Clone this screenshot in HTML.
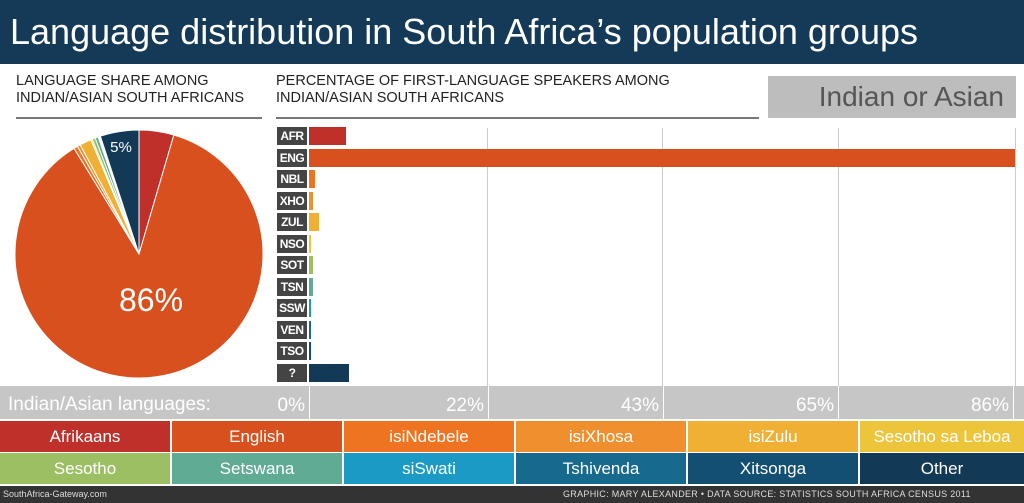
<!DOCTYPE html>
<html><head><meta charset="utf-8"><style>
body{margin:0;width:1024px;height:503px;overflow:hidden;background:#fff;font-family:"Liberation Sans",sans-serif;position:relative}
.a{position:absolute}
.lb{position:absolute;left:277px;width:30px;height:18px;background:#444;color:#fff;font-size:12px;font-weight:bold;text-align:center;line-height:18px;letter-spacing:-0.5px}
.bar{position:absolute;left:309px;height:18px}
.lg{position:absolute;height:31px;line-height:31px;text-align:center;color:#fff;font-size:17px;font-family:"Liberation Sans Narrow","Liberation Sans",sans-serif}
</style></head><body>
<div class="a" style="left:0;top:0;width:1024px;height:64px;background:#143a57"></div>
<div class="a" style="left:10px;top:11px;color:#fff;font-size:36px;white-space:nowrap">Language distribution in South Africa’s population groups</div>
<div class="a" style="left:16px;top:73px;font-size:14.5px;line-height:17px;color:#222">LANGUAGE SHARE AMONG<br>INDIAN/ASIAN SOUTH AFRICANS</div>
<div class="a" style="left:16px;top:117px;width:246px;height:2px;background:#777"></div>
<div class="a" style="left:276px;top:73px;font-size:14.5px;line-height:17px;color:#222">PERCENTAGE OF FIRST-LANGUAGE SPEAKERS AMONG<br>INDIAN/ASIAN SOUTH AFRICANS</div>
<div class="a" style="left:276px;top:117px;width:483px;height:2px;background:#777"></div>
<div class="a" style="left:768px;top:76px;width:248px;height:42px;background:#bdbdbd;color:#555;font-size:28px;line-height:42px;text-align:right;box-sizing:border-box;padding-right:12px">Indian or Asian</div>
<div class="a" style="left:487px;top:128px;width:1px;height:258px;background:#ccc"></div>
<div class="a" style="left:662px;top:128px;width:1px;height:258px;background:#ccc"></div>
<div class="a" style="left:838px;top:128px;width:1px;height:258px;background:#ccc"></div>
<div class="a" style="left:1015px;top:128px;width:1px;height:258px;background:#ccc"></div>
<svg class="a" style="left:0;top:0" width="300" height="387" id="pie"></svg>
<div id="bars"></div>
<div class="a" style="left:0;top:386px;width:1024px;height:33px;background:#c6c6c6"></div>
<div class="a" style="left:8px;top:386px;height:33px;line-height:38px;font-size:19px;color:#fff">Indian/Asian languages:</div>
<div id="ticks"></div>
<div id="leg"></div>
<div class="a" style="left:0;top:486px;width:1024px;height:17px;background:#333"></div>
<div class="a" style="left:3px;top:486px;line-height:17px;font-size:9px;color:#ddd">SouthAfrica-Gateway.com</div>
<div class="a" style="left:563px;top:486px;line-height:17px;font-size:9px;color:#ddd;white-space:nowrap;letter-spacing:0.3px">GRAPHIC: MARY ALEXANDER • DATA SOURCE: STATISTICS SOUTH AFRICA CENSUS 2011</div>
<script>
var cols=["#c0302a","#d9501f","#ef7422","#f08f2e","#efb033","#ecc53a","#9cbf63","#5fab94","#1a9ac4","#176a8e","#134f72","#123a57"];
var pv=[4.5,86,0.5,0.4,1.5,0.2,0.4,0.4,0.1,0.1,0.1,5];
var s=0;pv.forEach(function(v){s+=v});
var cx=139,cy=254,r=124,a=0,h="";
pv.forEach(function(v,i){var a2=a+v/s*2*Math.PI;
var x1=cx+r*Math.sin(a),y1=cy-r*Math.cos(a),x2=cx+r*Math.sin(a2),y2=cy-r*Math.cos(a2);
h+='<path d="M'+cx+','+cy+'L'+x1+','+y1+'A'+r+','+r+' 0 '+(a2-a>Math.PI?1:0)+' 1 '+x2+','+y2+'Z" fill="'+cols[i]+'" stroke="#fff" stroke-width="1"/>';a=a2;});
h+='<text x="151" y="311" fill="#fff" font-size="32" text-anchor="middle" font-family="Liberation Sans">86%</text>';
h+='<text x="121" y="152" fill="#fff" font-size="15" text-anchor="middle" font-family="Liberation Sans">5%</text>';
document.getElementById('pie').innerHTML=h;
var lbs=["AFR","ENG","NBL","XHO","ZUL","NSO","SOT","TSN","SSW","VEN","TSO","?"];
var bw=[37,706,6,4,10,2,4,4,2,2,2,40];b="";
lbs.forEach(function(l,i){var y=127+i*21.5;b+='<div class="lb" style="top:'+y+'px">'+l+'</div><div class="bar" style="top:'+y+'px;width:'+bw[i]+'px;background:'+cols[i]+'"></div>';});
document.getElementById('bars').innerHTML=b;
var tk=[[309,"0%"],[488,"22%"],[663,"43%"],[838,"65%"],[1013,"86%"]],t="";
tk.forEach(function(k){t+='<div class="a" style="left:'+k[0]+'px;top:386px;width:1px;height:33px;background:#fff"></div><div class="a" style="left:'+(k[0]-100)+'px;width:96px;text-align:right;top:386px;line-height:40px;font-size:19px;color:#fff">'+k[1]+'</div>';});
document.getElementById('ticks').innerHTML=t;
var ln=["Afrikaans","English","isiNdebele","isiXhosa","isiZulu","Sesotho sa Leboa","Sesotho","Setswana","siSwati","Tshivenda","Xitsonga","Other"],g="";
ln.forEach(function(n,i){var c=i%6,rw=Math.floor(i/6);g+='<div class="lg" style="left:'+(c*172)+'px;width:'+(c==5?164:170)+'px;top:'+(421+rw*32)+'px;background:'+cols[i]+';white-space:nowrap;overflow:hidden">'+n+'</div>';});
document.getElementById('leg').innerHTML=g;
</script>
</body></html>
